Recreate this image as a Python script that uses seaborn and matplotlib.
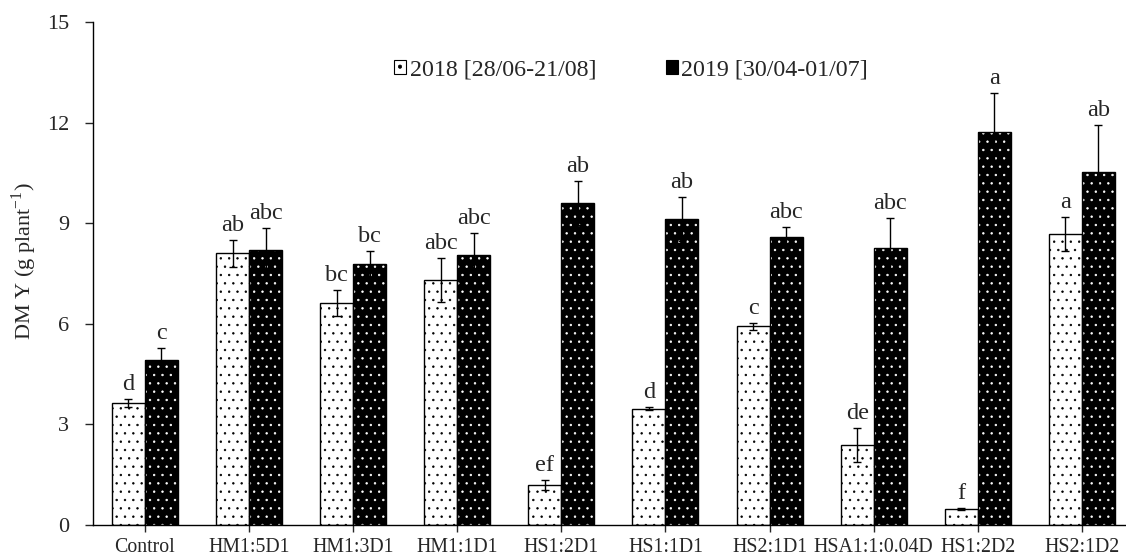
import numpy as np
import pandas as pd
import matplotlib
matplotlib.use('Agg')
import matplotlib.pyplot as plt
from matplotlib.patches import Patch, Rectangle
import seaborn as sns

treatments = ['Control', 'HM1:5D1', 'HM1:3D1', 'HM1:1D1', 'HS1:2D1',
              'HS1:1D1', 'HS2:1D1', 'HSA1:1:0.04D', 'HS1:2D2', 'HS2:1D2']
years = ['2018 [28/06-21/08]', '2019 [30/04-01/07]']

dm_2018 = [3.65, 8.10, 6.62, 7.30, 1.20, 3.47, 5.93, 2.38, 0.47, 8.68]
err_2018 = [0.12, 0.40, 0.40, 0.65, 0.15, 0.05, 0.10, 0.50, 0.03, 0.50]
lab_2018 = ['d', 'ab', 'bc', 'abc', 'ef', 'd', 'c', 'de', 'f', 'a']

dm_2019 = [4.93, 8.20, 7.78, 8.05, 9.60, 9.12, 8.60, 8.25, 11.72, 10.52]
err_2019 = [0.35, 0.65, 0.40, 0.65, 0.65, 0.65, 0.30, 0.90, 1.15, 1.40]
lab_2019 = ['c', 'abc', 'bc', 'abc', 'ab', 'ab', 'abc', 'abc', 'a', 'ab']

df = pd.DataFrame({
    'treatment': treatments * 2,
    'year': [years[0]] * len(treatments) + [years[1]] * len(treatments),
    'dm': dm_2018 + dm_2019,
})

sns.set_style('ticks')
plt.rcParams['font.family'] = ['Liberation Serif', 'DejaVu Serif']
plt.rcParams['mathtext.fontset'] = 'custom'
plt.rcParams['mathtext.rm'] = 'Liberation Serif'
plt.rcParams['hatch.linewidth'] = 0.5

fig = plt.figure(figsize=(11.26, 5.59), dpi=100)
ax = fig.add_axes([92.5 / 1126, 34 / 559, 1 - 92.5 / 1126, 503 / 559])

sns.barplot(data=df, x='treatment', y='dm', hue='year', order=treatments,
            hue_order=years, palette=['white', 'black'], width=0.634,
            errorbar=None, legend=False, ax=ax, saturation=1)

styles = [('white', 'black'), ('black', 'white')]
errs = [err_2018, err_2019]
labs = [lab_2018, lab_2019]
vals = [dm_2018, dm_2019]
bar_groups = list(ax.containers)[:2]
for k, cont in enumerate(bar_groups):
    fc, hc = styles[k]
    for i, p in enumerate(cont.patches):
        p.set_facecolor(fc)
        p.set_edgecolor(hc)
        p.set_hatch('..')
        p.set_linewidth(0)
        ax.add_patch(Rectangle(p.get_xy(), p.get_width(), p.get_height(),
                               fill=False, edgecolor='black', linewidth=1, zorder=3))
        xc = p.get_x() + p.get_width() / 2
        ax.errorbar(xc, vals[k][i], yerr=errs[k][i], fmt='none', ecolor='black',
                    elinewidth=1, capsize=3, capthick=1, zorder=4)
        ax.text(xc, vals[k][i] + errs[k][i] + 0.12, labs[k][i], ha='center',
                va='bottom', fontsize=17.5)

ax.set_ylim(0, 15)
ax.set_yticks([0, 3, 6, 9, 12, 15])
ax.set_xlim(-0.504, 9.424)
ax.set_xlabel('')
ax.set_ylabel('DM Y (g plant$^{\\mathregular{-1}}$)', fontsize=16)
ax.yaxis.set_label_coords(-0.052, 0.525)
ax.tick_params(axis='y', labelsize=16, length=6, width=1, direction='out', pad=11)
ax.tick_params(axis='x', labelsize=14.3, length=5, width=1, direction='out', pad=4)
for s in ['top', 'right']:
    ax.spines[s].set_visible(False)
for s in ['left', 'bottom']:
    ax.spines[s].set_linewidth(1)
    ax.spines[s].set_color('black')

handles = [Patch(facecolor='white', edgecolor='black', hatch='.', linewidth=0.8),
           Patch(facecolor='black', edgecolor='black', linewidth=0.8)]
ax.legend(handles, years, loc='center left', bbox_to_anchor=(382 / 1126, 1 - 70 / 559),
          bbox_transform=fig.transFigure, borderpad=0, ncol=2,
          frameon=False, fontsize=17.3, handlelength=0.5, handleheight=0.5,
          handletextpad=0.15, columnspacing=2.9)

fig.savefig('out.png', dpi=100)
